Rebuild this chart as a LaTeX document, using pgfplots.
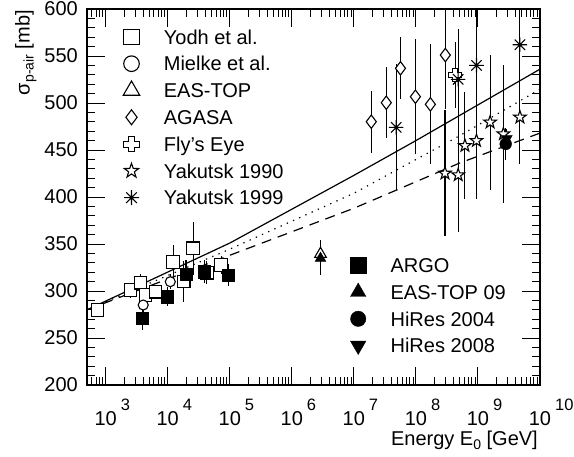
\documentclass[border=0pt]{standalone}
\usepackage{fontspec}
\setmainfont{Liberation Sans}
\usepackage{pgfplots}
\pgfplotsset{compat=1.18}
\usetikzlibrary{plotmarks}

% open five-pointed star
\pgfdeclareplotmark{ostar}{%
  \pgfpathmoveto{\pgfpointpolar{90}{\pgfplotmarksize}}%
  \pgfpathlineto{\pgfpointpolar{126}{0.4\pgfplotmarksize}}%
  \pgfpathlineto{\pgfpointpolar{162}{\pgfplotmarksize}}%
  \pgfpathlineto{\pgfpointpolar{198}{0.4\pgfplotmarksize}}%
  \pgfpathlineto{\pgfpointpolar{234}{\pgfplotmarksize}}%
  \pgfpathlineto{\pgfpointpolar{270}{0.4\pgfplotmarksize}}%
  \pgfpathlineto{\pgfpointpolar{306}{\pgfplotmarksize}}%
  \pgfpathlineto{\pgfpointpolar{342}{0.4\pgfplotmarksize}}%
  \pgfpathlineto{\pgfpointpolar{18}{\pgfplotmarksize}}%
  \pgfpathlineto{\pgfpointpolar{54}{0.4\pgfplotmarksize}}%
  \pgfpathclose\pgfusepathqfillstroke}
% open cross (outline of a plus)
\pgfdeclareplotmark{ocross}{%
  \pgfpathmoveto{\pgfqpoint{0.4\pgfplotmarksize}{\pgfplotmarksize}}%
  \pgfpathlineto{\pgfqpoint{0.4\pgfplotmarksize}{0.4\pgfplotmarksize}}%
  \pgfpathlineto{\pgfqpoint{\pgfplotmarksize}{0.4\pgfplotmarksize}}%
  \pgfpathlineto{\pgfqpoint{\pgfplotmarksize}{-0.4\pgfplotmarksize}}%
  \pgfpathlineto{\pgfqpoint{0.4\pgfplotmarksize}{-0.4\pgfplotmarksize}}%
  \pgfpathlineto{\pgfqpoint{0.4\pgfplotmarksize}{-\pgfplotmarksize}}%
  \pgfpathlineto{\pgfqpoint{-0.4\pgfplotmarksize}{-\pgfplotmarksize}}%
  \pgfpathlineto{\pgfqpoint{-0.4\pgfplotmarksize}{-0.4\pgfplotmarksize}}%
  \pgfpathlineto{\pgfqpoint{-\pgfplotmarksize}{-0.4\pgfplotmarksize}}%
  \pgfpathlineto{\pgfqpoint{-\pgfplotmarksize}{0.4\pgfplotmarksize}}%
  \pgfpathlineto{\pgfqpoint{-0.4\pgfplotmarksize}{0.4\pgfplotmarksize}}%
  \pgfpathlineto{\pgfqpoint{-0.4\pgfplotmarksize}{\pgfplotmarksize}}%
  \pgfpathclose\pgfusepathqfillstroke}
% root-style asterisk with a dot
\pgfdeclareplotmark{kstar}{%
  \pgfpathmoveto{\pgfqpoint{-\pgfplotmarksize}{0pt}}\pgfpathlineto{\pgfqpoint{\pgfplotmarksize}{0pt}}%
  \pgfpathmoveto{\pgfqpoint{0pt}{-\pgfplotmarksize}}\pgfpathlineto{\pgfqpoint{0pt}{\pgfplotmarksize}}%
  \pgfpathmoveto{\pgfqpoint{-0.71\pgfplotmarksize}{-0.71\pgfplotmarksize}}\pgfpathlineto{\pgfqpoint{0.71\pgfplotmarksize}{0.71\pgfplotmarksize}}%
  \pgfpathmoveto{\pgfqpoint{-0.71\pgfplotmarksize}{0.71\pgfplotmarksize}}\pgfpathlineto{\pgfqpoint{0.71\pgfplotmarksize}{-0.71\pgfplotmarksize}}%
  \pgfusepathqstroke
  \pgfpathcircle{\pgfpointorigin}{0.2\pgfplotmarksize}\pgfusepathqfill}

\newcommand{\ex}[1]{10\rlap{\hspace{4pt}\raisebox{15pt}{\fontsize{16.5}{16.5}\selectfont #1}}}
\newcommand{\bigfont}{\fontsize{20}{24}\selectfont}

\begin{document}
\begin{tikzpicture}[font=\bigfont]
\begin{axis}[scale only axis, width=453pt, height=376pt,
  xmode=log, xmin=500, xmax=1e10, ymin=200, ymax=600,
  axis line style={line width=1.4pt},
  tick style={line width=1pt, black},
  tick align=inside, major tick length=18pt, minor tick length=8pt,
  xtick={1e3,1e4,1e5,1e6,1e7,1e8,1e9,1e10},
  xticklabels={\ex{3},\ex{4},\ex{5},\ex{6},\ex{7},\ex{8},\ex{9},\ex{10}},
  minor xtick={600,700,800,900,2e3,3e3,4e3,5e3,6e3,7e3,8e3,9e3,
    2e4,3e4,4e4,5e4,6e4,7e4,8e4,9e4,2e5,3e5,4e5,5e5,6e5,7e5,8e5,9e5,
    2e6,3e6,4e6,5e6,6e6,7e6,8e6,9e6,2e7,3e7,4e7,5e7,6e7,7e7,8e7,9e7,
    2e8,3e8,4e8,5e8,6e8,7e8,8e8,9e8,2e9,3e9,4e9,5e9,6e9,7e9,8e9,9e9},
  ytick={200,250,...,600}, minor y tick num=4,
  tick label style={font=\bigfont},
  /pgf/number format/assume math mode=true,
  xticklabel style={inner sep=0pt, anchor=base, yshift=-40pt},
  yticklabel style={inner sep=0pt, anchor=east, xshift=-9pt},
  ylabel={σ\raisebox{-4pt}{\fontsize{14}{14}\selectfont p-air} [mb]},
  ylabel style={at={(axis description cs:0,1)}, anchor=north east,
    inner sep=0pt, xshift=-1pt, yshift=72pt},
  xlabel={Energy E\raisebox{-4pt}{\fontsize{14}{14}\selectfont 0} [GeV]},
  xlabel style={at={(axis description cs:1,0)}, anchor=base east,
    inner sep=0pt, xshift=-2pt, yshift=-60pt},
  error bars/error bar style={line width=1.1pt, black},
]
% fits
\addplot[line width=1.2pt, black] coordinates {(501,280) (1e5,351) (1e7,423) (1e8,460) (1e9,498) (1e10,536)};
\addplot[line width=1.2pt, black, dash pattern=on 1.3pt off 5.5pt] coordinates {(501,280) (1e5,344.5) (1e7,404) (5.01e8,465) (1e10,514.6)};
\addplot[line width=1.2pt, black, dash pattern=on 10pt off 7pt] coordinates {(501,280) (1e5,338) (1e7,388) (5.01e8,436) (1e10,468)};

% Yodh et al.
\addplot[only marks, mark=square*, mark size=6.3pt, mark options={fill=white, draw=black, line width=1.1pt},
  error bars/.cd, y dir=both, y explicit, error mark=none]
  table[x=x, y=y, y error=e] {
x y e
740 280 7
2520 301 8
3650 308.8 9
4390 295.7 7
6350 299.3 7
12200 331 18
18100 310 22
25600 345.4 28
42800 319.5 12
72800 327.7 10
};
% Mielke et al.
\addplot[only marks, mark=*, mark size=5pt, mark options={fill=white, draw=black, line width=1.1pt},
  error bars/.cd, y dir=both, y explicit, error mark=none]
  table[x=x, y=y, y error=e] {
x y e
4030 285.1 7
11000 309.9 8
};
% EAS-TOP
\addplot[only marks, mark=triangle*, mark size=6.7pt, mark options={fill=white, draw=black, line width=1.1pt},
  error bars/.cd, y dir=both, y explicit, error mark=none]
  table[x=x, y=y, y error=e] {
x y e
2.9e6 339.4 15
};
% AGASA
\addplot[only marks, mark=diamond*, mark size=6.7pt, mark options={fill=white, draw=black, line width=1.1pt},
  error bars/.cd, y dir=both, y explicit, error mark=none]
  table[x=x, y=y, y error=e] {
x y e
1.91e7 480.1 33
3.33e7 500.3 38
5.64e7 536.9 33
9.82e7 506.7 61
1.71e8 498.6 64
2.98e8 551 57
};
% Fly's Eye
\addplot[only marks, mark=ocross, mark size=6.4pt, mark options={fill=white, draw=black, line width=0.9pt},
  error bars/.cd, y dir=both, y explicit, error mark=none]
  table[x=x, y=y, y error=e] {
x y e
4.3e8 529.8 35
};
% Yakutsk 1990
\addplot[only marks, mark=ostar, mark size=6.6pt, mark options={fill=white, draw=black, line width=1.1pt},
  error bars/.cd, y dir=both, y explicit, error mark=none]
  table[x=x, y=y, y error=e] {
x y e
2.94e8 425.2 67
4.8e8 423.4 61
6.17e8 454.6 57
9.47e8 459.9 62
1.57e9 479.5 72
2.57e9 467 73
4.75e9 484.8 50
};
% Yakutsk 1999
\addplot[only marks, mark=kstar, mark size=7.3pt, mark options={draw=black, fill=black, line width=1.1pt},
  error bars/.cd, y dir=both, y explicit, error mark=none]
  table[x=x, y=y, y error=e] {
x y e
4.81e7 474.1 67
4.8e8 525.2 54
9.47e8 540 60
4.75e9 562 40
};
% ARGO
\addplot[only marks, mark=square*, mark size=6.2pt, mark options={fill=black, draw=black},
  error bars/.cd, y dir=both, y explicit, error mark=none]
  table[x=x, y=y, y error=e] {
x y e
3880 271 12
9770 294 10
19700 317.8 15
38800 320.5 12
95300 317 12
};
% EAS-TOP 09
\addplot[only marks, mark=triangle*, mark size=6.2pt, mark options={fill=black, draw=black},
  error bars/.cd, y dir=both, y explicit, error mark=none]
  table[x=x, y=y, y error=e] {
x y e
2.9e6 334.8 18
};
% HiRes 2004
\addplot[only marks, mark=*, mark size=5.9pt, mark options={fill=black, draw=black},
  error bars/.cd, y dir=both, y explicit, error mark=none]
  table[x=x, y=y, y error=e] {
x y e
2.8e9 456.4 17
};
% HiRes 2008
\addplot[only marks, mark=triangle*, mark size=6.5pt, mark options={fill=black, draw=black, rotate=180},
  error bars/.cd, y dir=both, y explicit, error mark=none]
  table[x=x, y=y, y error=e] {
x y e
2.9e9 462 10
};
\end{axis}

% legend of open markers
\begin{axis}[scale only axis, width=453pt, height=376pt,
  xmin=0, xmax=1, ymin=0, ymax=1, hide axis,
  legend cell align=left,
  legend image code/.code={\path[draw=none, fill=none] (-10pt,-8pt) rectangle (10pt,8pt);
      \draw[#1] plot coordinates {(0pt,0pt)};},
  legend style={draw=none, fill=none, inner sep=0pt, row sep=6.8pt, column sep=22.4pt,
      font=\bigfont, nodes={inner sep=0pt, text height=17.2pt, text depth=2.8pt},
      at={(0,1)}, anchor=north west, xshift=34.3pt, yshift=-17.7pt}]
\addlegendimage{only marks, mark=square*, mark size=7.8pt, mark options={fill=white, draw=black, line width=1.1pt}}
\addlegendentry{Yodh et al.}
\addlegendimage{only marks, mark=*, mark size=7.8pt, mark options={fill=white, draw=black, line width=1.1pt}}
\addlegendentry{Mielke et al.}
\addlegendimage{only marks, mark=triangle*, mark size=9.5pt, mark options={fill=white, draw=black, line width=1.1pt}}
\addlegendentry{EAS-TOP}
\addlegendimage{only marks, mark=diamond*, mark size=7.5pt, mark options={fill=white, draw=black, line width=1.1pt}}
\addlegendentry{AGASA}
\addlegendimage{only marks, mark=ocross, mark size=7.6pt, mark options={fill=white, draw=black, line width=0.9pt}}
\addlegendentry{Fly's Eye}
\addlegendimage{only marks, mark=ostar, mark size=7.6pt, mark options={fill=white, draw=black, line width=1.1pt}}
\addlegendentry{Yakutsk 1990}
\addlegendimage{only marks, mark=kstar, mark size=7.5pt, mark options={fill=black, draw=black, line width=1.1pt}}
\addlegendentry{Yakutsk 1999}
\end{axis}

% legend of filled markers
\begin{axis}[scale only axis, width=453pt, height=376pt,
  xmin=0, xmax=1, ymin=0, ymax=1, hide axis,
  legend cell align=left,
  legend image code/.code={\path[draw=none, fill=none] (-10pt,-8pt) rectangle (10pt,8pt);
      \draw[#1] plot coordinates {(0pt,0pt)};},
  legend style={draw=none, fill=none, inner sep=0pt, row sep=6.8pt, column sep=22.4pt,
      font=\bigfont, nodes={inner sep=0pt, text height=17.2pt, text depth=2.8pt},
      at={(0,1)}, anchor=north west, xshift=261pt, yshift=-246pt}]
\addlegendimage{only marks, mark=square*, mark size=8pt, mark options={fill=black, draw=black}}
\addlegendentry{ARGO}
\addlegendimage{only marks, mark=triangle*, mark size=8.9pt, mark options={fill=black, draw=black}}
\addlegendentry{EAS-TOP 09}
\addlegendimage{only marks, mark=*, mark size=7.7pt, mark options={fill=black, draw=black}}
\addlegendentry{HiRes 2004}
\addlegendimage{only marks, mark=triangle*, mark size=8.9pt, mark options={fill=black, draw=black, rotate=180}}
\addlegendentry{HiRes 2008}
\end{axis}

\path (-87pt,-71pt) rectangle (487pt,385pt);
\end{tikzpicture}
\end{document}
